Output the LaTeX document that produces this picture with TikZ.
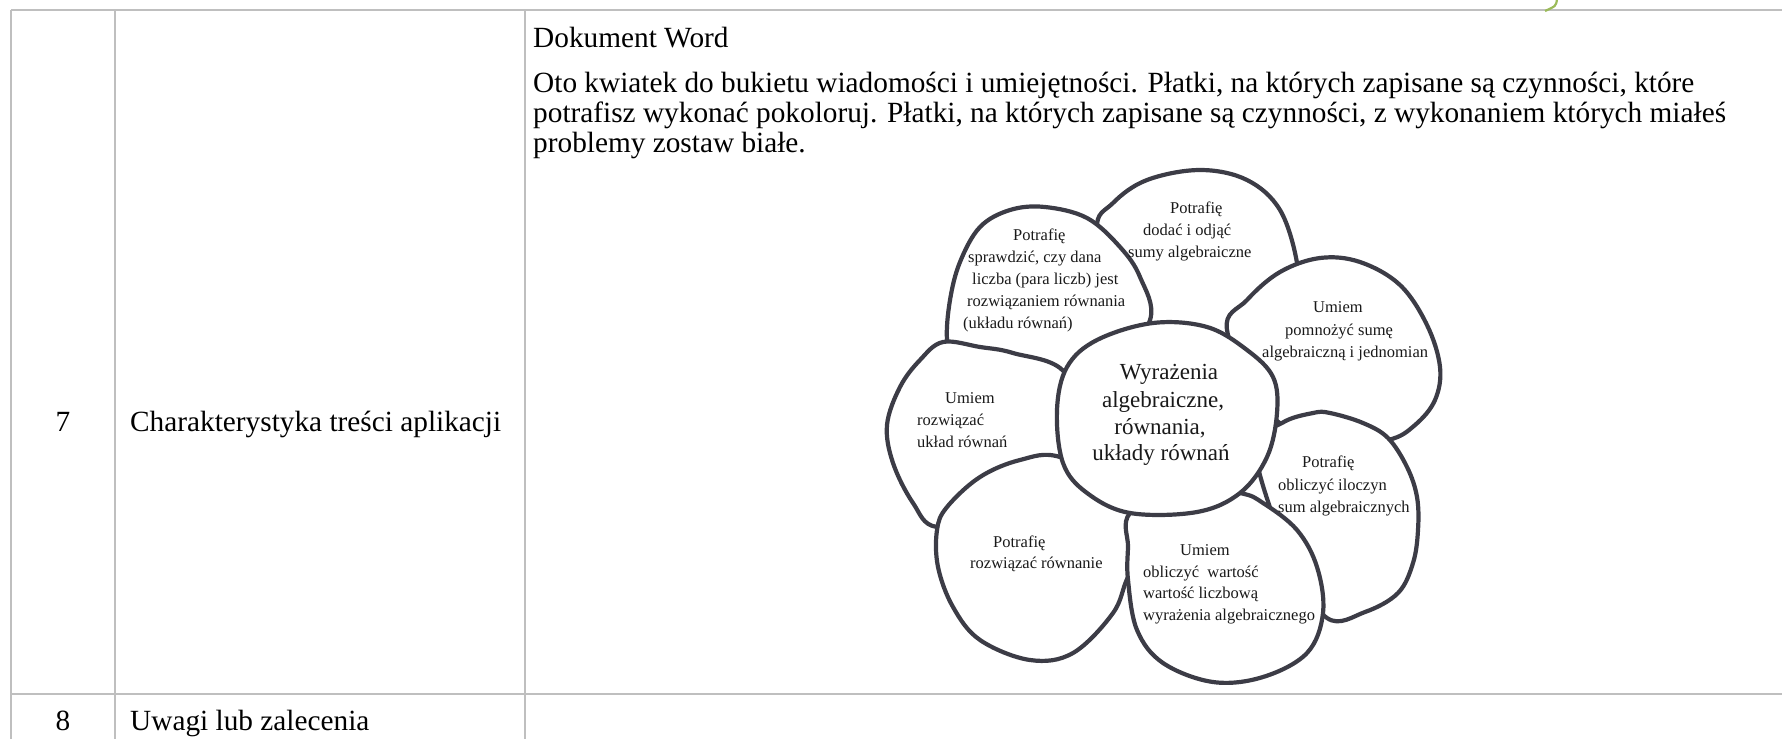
\documentclass[tikz,border=0pt]{standalone}
\usepackage{fontspec}
\setmainfont{Liberation Serif}
\definecolor{ruleGray}{HTML}{BFBFBF}
\definecolor{inkGray}{HTML}{3C3C46}
\definecolor{leafGreen}{HTML}{9BBB59}
\begin{document}
\begin{tikzpicture}[x=1pt,y=-1pt,
  rule/.style={draw=ruleGray, line width=2.2pt},
  petal/.style={draw=inkGray, fill=white, line width=4.2pt, line join=round},
  body/.style={anchor=base west, inner sep=0pt, font=\fontsize{29.3}{33.5}\selectfont},
  numtxt/.style={anchor=base, inner sep=0pt, font=\fontsize{29.3}{33.5}\selectfont},
  ptxt/.style={anchor=base west, inner sep=0pt, text=black!90, font=\fontsize{16.5}{21}\selectfont},
  ctxt/.style={anchor=base, inner sep=0pt, text=black!90, font=\fontsize{23}{27}\selectfont},
]
\useasboundingbox (0,0) rectangle (1782,739);

% table rules
\coordinate (tl) at (11,10);
\coordinate (tr) at (1782,10);
\coordinate (ml) at (11,694);
\coordinate (mr) at (1782,694);
\coordinate (c0b) at (11,739);
\coordinate (c1t) at (115,10);
\coordinate (c1b) at (115,739);
\coordinate (c2t) at (525,10);
\coordinate (c2b) at (525,739);
\draw[rule] (tl) -- (tr);
\draw[rule] (ml) -- (mr);
\draw[rule] (tl) -- (c0b);
\draw[rule] (c1t) -- (c1b);
\draw[rule] (c2t) -- (c2b);

% small green stroke on the top edge
\coordinate (g1) at (1557,-1);
\coordinate (g2) at (1545,11);
\draw[leafGreen, line width=2.2pt] (g1) .. controls (1556,6) .. (g2);

% left columns
\node[numtxt] (n7) at (63,431) {7};
\node[body] (r7) at (130,431) {Charakterystyka treści aplikacji};
\node[numtxt] (n8) at (63,730) {8};
\node[body] (r8) at (130,730) {Uwagi lub zalecenia};

% description text
\node[body] (doc) at (533,47) {Dokument Word};
\node[body] (p1) at (533,92) {Oto kwiatek do bukietu wiadomości i umiejętności. Płatki, na których zapisane są czynności, które};
\node[body] (p2) at (533,122) {potrafisz wykonać pokoloruj. Płatki, na których zapisane są czynności, z wykonaniem których miałeś};
\node[body] (p3) at (533,152) {problemy zostaw białe.};

% flower petals, back to front
\path[petal] plot[smooth cycle, tension=0.6] coordinates {
  (1097,230) (1113,203) (1147,180) (1200,170) (1247,180) (1280,210)
  (1297,263) (1295,300) (1200,360) (1120,310)};
\path[petal] plot[smooth cycle, tension=0.6] coordinates {
  (947,340) (950,300) (960,262) (980,227) (1010,210) (1045,207)
  (1087,218) (1120,247) (1140,277) (1150,320) (1110,370) (1000,385) (955,368)};
\path[petal] plot[smooth cycle, tension=0.6] coordinates {
  (1227,330) (1247,300) (1280,272) (1320,258) (1360,262) (1400,285)
  (1427,325) (1440,367) (1435,400) (1415,425) (1388,440) (1330,445) (1265,410)};
\path[petal] plot[smooth cycle, tension=0.6] coordinates {
  (1282,423) (1313,413) (1330,413) (1363,423) (1388,438) (1407,467)
  (1417,497) (1418,530) (1413,563) (1398,593) (1365,612) (1327,618)
  (1290,560) (1255,450)};
\path[petal] plot[smooth cycle, tension=0.6] coordinates {
  (900,387) (920,360) (943,342) (980,347) (1013,353) (1065,373)
  (1078,440) (1000,515) (937,527) (913,503) (893,463) (887,425)};
\path[petal] plot[smooth cycle, tension=0.6] coordinates {
  (1060,457) (1020,460) (980,477) (947,507) (937,530) (938,567)
  (953,607) (980,640) (1030,660) (1073,653) (1113,613) (1128,577)
  (1150,540) (1120,490)};
\path[petal] plot[smooth cycle, tension=0.6] coordinates {
  (1130,513) (1128,547) (1128,580) (1137,630) (1163,663) (1213,682)
  (1263,677) (1307,653) (1323,613) (1317,567) (1297,530) (1263,503)
  (1240,493) (1180,485)};
\path[petal] plot[smooth cycle, tension=0.6] coordinates {
  (1057,410) (1067,367) (1097,340) (1153,323) (1207,327) (1247,350)
  (1273,377) (1277,413) (1267,457) (1240,493) (1197,512) (1130,513)
  (1087,493) (1063,463)};

% petal labels
\node[ptxt] (t1) at (1170,213) {Potrafię};
\node[ptxt] (t2) at (1143,235) {dodać i odjąć};
\node[ptxt] (t3) at (1128,257) {sumy algebraiczne};

\node[ptxt] (u1) at (1013,240) {Potrafię};
\node[ptxt] (u2) at (968,262) {sprawdzić, czy dana};
\node[ptxt] (u3) at (972,284) {liczba (para liczb) jest};
\node[ptxt] (u4) at (967,306) {rozwiązaniem równania};
\node[ptxt] (u5) at (963,328) {(układu równań)};

\node[ptxt] (l1) at (945,403) {Umiem};
\node[ptxt] (l2) at (917,425) {rozwiązać};
\node[ptxt] (l3) at (917,447) {układ równań};

\node[ptxt] (r1) at (1313,312) {Umiem};
\node[ptxt] (r2) at (1285,335) {pomnożyć sumę};
\node[ptxt] (r3) at (1262,357) {algebraiczną i jednomian};

\node[ptxt] (q1) at (1302,467) {Potrafię};
\node[ptxt] (q2) at (1278,490) {obliczyć iloczyn};
\node[ptxt] (q3) at (1278,512) {sum algebraicznych};

\node[ptxt] (s1) at (993,547) {Potrafię};
\node[ptxt] (s2) at (970,568) {rozwiązać równanie};

\node[ptxt] (b1) at (1180,555) {Umiem};
\node[ptxt] (b2) at (1143,577) {obliczyć\ \ wartość};
\node[ptxt] (b3) at (1143,598) {wartość liczbową};
\node[ptxt] (b4) at (1143,620) {wyrażenia algebraicznego};

% flower centre label
\node[ctxt] (k1) at (1169,379) {Wyrażenia};
\node[ctxt] (k2) at (1163,407) {algebraiczne,};
\node[ctxt] (k3) at (1160,434) {równania,};
\node[ctxt] (k4) at (1161,460) {układy równań};
\end{tikzpicture}
\end{document}
